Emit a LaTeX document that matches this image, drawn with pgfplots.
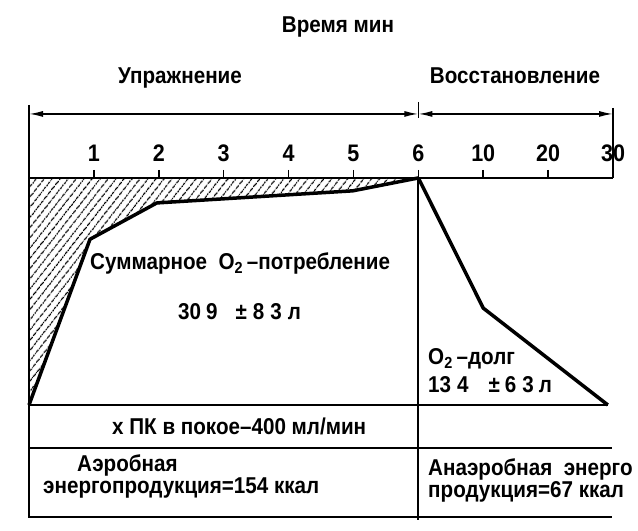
\documentclass[border=0pt]{standalone}
\usepackage{fontspec}
\setmainfont{Liberation Sans}[FakeStretch=0.9]
\usepackage{pgfplots}
\pgfplotsset{compat=1.18}
\usetikzlibrary{arrows.meta,patterns.meta}

\begin{document}
\begin{tikzpicture}[font=\fontsize{23}{25}\selectfont\bfseries]
\begin{axis}[
  scale only axis, width=584bp, height=227bp,
  xmin=0, xmax=9, ymin=0, ymax=3,
  axis x line*=top, axis y line*=left,
  ytick=\empty,
  xtick={1,...,9}, xticklabels={1,2,3,4,5,6,10,20,30},
  tick align=outside, major tick length=8bp,
  every tick/.style={black, line width=1.5bp},
  axis line style={line width=2.5bp},
  xticklabel style={anchor=base, yshift=8bp, font=\fontsize{24}{26}\selectfont\bfseries},
  /pgf/number format/assume math mode=true,
  clip=false,
]
% hatched O2 deficit
\addplot[draw=none, pattern={Lines[angle=52,distance=6bp,line width=1.2bp]}]
  coordinates {(0,0)(0.94,2.19)(1.97,2.67)(4.99,2.83)(6,3)(0,3)} -- cycle;
% O2 uptake during exercise
\addplot[line width=3.5bp, line join=round] coordinates {(0,0)(0.94,2.19)(1.97,2.67)(4.99,2.83)(6,3)};
% recovery
\addplot[line width=3.5bp, line join=round] coordinates {(6,3)(7,1.28)(8.92,0)};

% table lines
\draw[line width=2bp] (axis cs:0,0) -- (axis cs:8.93,0);
\draw[line width=2bp] (axis cs:0,-0.568) -- (axis cs:8.985,-0.568);
\draw[line width=2bp] (axis cs:0,-1.48) -- (axis cs:8.985,-1.48);
\draw[line width=2bp] (axis cs:0,3.965) -- (axis cs:0,-1.50);
\draw[line width=2bp] (axis cs:6,3) -- (axis cs:6,-1.52);
\draw[line width=1.5bp] (axis cs:6,4.004) -- (axis cs:6,3.793);
\draw[line width=1.5bp] (axis cs:9,3.925) -- (axis cs:9,3);
\draw[line width=1.5bp, {Latex[length=14bp,width=6bp]}-{Latex[length=14bp,width=6bp]}]
  (axis cs:0,3.846) -- (axis cs:6,3.846);
\draw[line width=1.5bp, {Latex[length=14bp,width=6bp]}-{Latex[length=14bp,width=6bp]}]
  (axis cs:6,3.846) -- (axis cs:9,3.846);

% texts
\node[anchor=base] at (axis cs:4.762,4.916) {Время мин};
\node[anchor=base] at (axis cs:2.327,4.255) {Упражнение};
\node[anchor=base] at (axis cs:7.49,4.242) {Восстановление};
\node[anchor=base west, inner sep=0pt] at (axis cs:0.94,1.784) {Суммарное\ \ O\textsubscript{2}\,–потребление};
\node[anchor=base west, inner sep=0pt] at (axis cs:2.296,1.123)
  {30\hspace{5bp}9\hspace{18bp}±\hspace{6bp}8\hspace{6bp}3\hspace{6bp}л};
\node[anchor=base west, inner sep=0pt] at (axis cs:6.149,0.529) {O\textsubscript{2}\,–долг};
\node[anchor=base west, inner sep=0pt] at (axis cs:6.149,0.159)
  {13\hspace{6bp}4\hspace{20bp}±\hspace{5bp}6\hspace{6bp}3\hspace{5bp}л};
\node[anchor=base west, inner sep=0pt] at (axis cs:1.279,-0.396) {х ПК в покое–400 мл/мин};
\node[anchor=base west, inner sep=0pt] at (axis cs:0.74,-0.885) {Аэробная};
\node[anchor=base west, inner sep=0pt] at (axis cs:0.216,-1.176) {энергопродукция=154 ккал};
\node[anchor=base west, inner sep=0pt] at (axis cs:6.149,-0.938) {Анаэробная\ \ энерго};
\node[anchor=base west, inner sep=0pt] at (axis cs:6.149,-1.229) {продукция=67 ккал};

\coordinate (bbSW) at (axis cs:-0.447,-1.665);
\coordinate (bbNE) at (axis cs:9.385,5.352);
\end{axis}
\pgfresetboundingbox
\path[use as bounding box] (bbSW) rectangle (bbNE);
\end{tikzpicture}
\end{document}
